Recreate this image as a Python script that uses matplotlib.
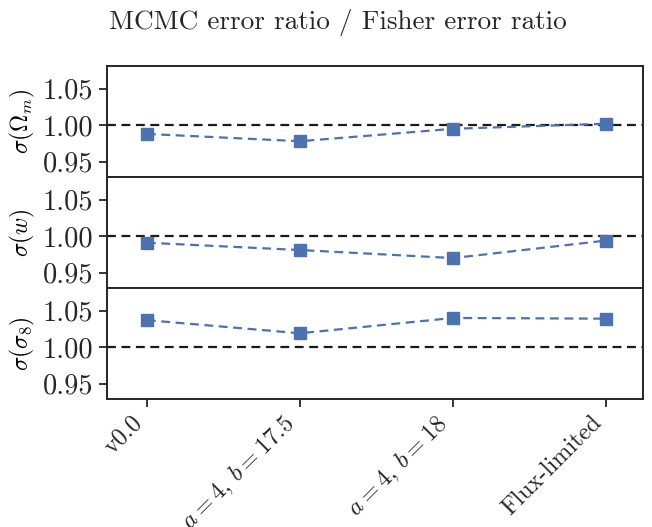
import matplotlib
matplotlib.use("Agg")
import matplotlib.pyplot as plt
import numpy as np

categories = ["v0.0", r"$a=4$, $b=17.5$", r"$a=4$, $b=18$", "Flux-limited"]
omega_m = [0.988, 0.978, 0.995, 1.002]
w_vals = [0.991, 0.981, 0.970, 0.994]
sigma8 = [1.037, 1.019, 1.040, 1.039]
ylabels = [r"$\sigma(\Omega_m)$", r"$\sigma(w)$", r"$\sigma(\sigma_8)$"]
yticks = [0.95, 1.00, 1.05]
title = "MCMC error ratio / Fisher error ratio"

plt.rcParams.update({
    "font.family": "serif",
    "font.serif": ["cmr10"],
    "mathtext.fontset": "cm",
    "axes.formatter.use_mathtext": True,
    "axes.unicode_minus": False,
    "axes.edgecolor": "#262626",
    "axes.linewidth": 1.4,
    "xtick.color": "#262626",
    "ytick.color": "#262626",
    "text.color": "#262626",
})

fig = plt.figure(figsize=(6.52, 5.27), dpi=100)
L, R = 107/652, 643/652
tops = [66, 177, 288]
h = 111
axes = []
for i, t in enumerate(tops):
    ax = fig.add_axes([L, 1 - (t + h)/527, R - L, h/527])
    axes.append(ax)

x = np.arange(len(categories))
for ax, vals, lab in zip(axes, [omega_m, w_vals, sigma8], ylabels):
    ax.axhline(1.0, color="#1a1a1a", ls="--", lw=1.6, dashes=(4, 2.5), zorder=1)
    ax.plot(x, vals, ls="--", color="#4C72B0", marker="s", markersize=8,
            lw=1.6, dashes=(4, 2.5), zorder=2)
    ax.set_ylim(0.929, 1.081)
    ax.set_xlim(-0.26, 3.24)
    ax.set_yticks(yticks)
    ax.set_yticklabels([f"{v:.2f}" for v in yticks])
    ax.tick_params(axis="y", labelsize=20.5, length=6, width=1.3, direction="out", pad=4)
    ax.set_ylabel(lab, fontsize=17, labelpad=4)
    ax.set_xticks(x)
    if ax is not axes[-1]:
        ax.tick_params(axis="x", bottom=False, labelbottom=False)
    else:
        ax.set_xticklabels(categories, rotation=45, ha="right")
        ax.tick_params(axis="x", labelsize=17.5, length=6, width=1.3, direction="out", pad=3)

fig.text(338/652, 1 - 22/527, title, ha="center", va="center", fontsize=19.6)
fig.savefig("out.png", dpi=100)
